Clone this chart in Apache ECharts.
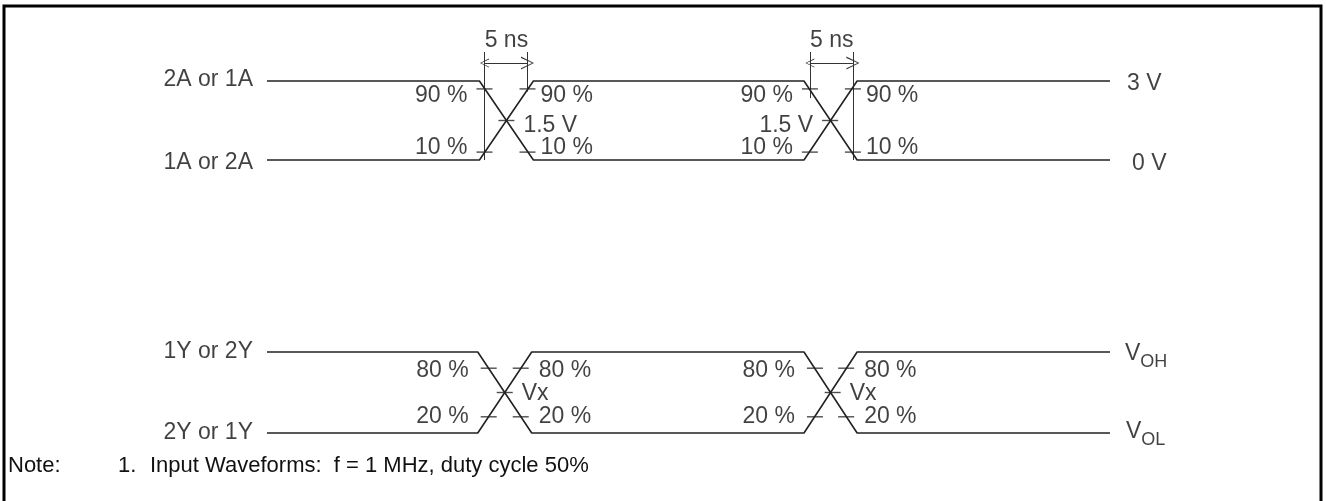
<!DOCTYPE html>
<html>
<head>
<meta charset="utf-8">
<script src="https://cdn.jsdelivr.net/npm/echarts@6/dist/echarts.min.js"></script>
<style>
  html, body { margin: 0; padding: 0; background: #fff; }
  #chart { width: 1326px; height: 501px; }
</style>
</head>
<body>
<div id="chart"></div>
<script>
// time in ns along the trace; input levels in volts, output levels normalised (VOL = 0, VOH = 1)
var inTime = [0, 25.2, 31.6, 63.7, 70.0, 100];
var inA = [3, 3, 0, 0, 3, 3];
var inB = [0, 0, 3, 3, 0, 0];
var outTime = [0, 25.0, 31.4, 63.7, 70.0, 100];
var outA = [1, 1, 0, 0, 1, 1];
var outB = [0, 0, 1, 1, 0, 0];

var inNames = ['2A or 1A', '1A or 2A'];
var outNames = ['1Y or 2Y', '2Y or 1Y'];
var inLevels = ['3 V', '0 V'];
var outLevels = ['{v|V}{s|OH}', '{v|V}{s|OL}'];

// threshold marks on the edges: [t, level, text, side of text]
var inMarks = [
  [25.8, 2.7, '90 %', 'L'], [30.9, 2.7, '90 %', 'R'], [28.4, 1.5, '1.5 V', 'R'],
  [25.8, 0.3, '10 %', 'L'], [30.9, 0.3, '10 %', 'R'],
  [64.4, 2.7, '90 %', 'L'], [69.5, 2.7, '90 %', 'R'], [66.8, 1.5, '1.5 V', 'L'],
  [64.4, 0.3, '10 %', 'L'], [69.5, 0.3, '10 %', 'R']
];
var outMarks = [
  [26.3, 0.8, '80 %', 'L'], [30.1, 0.8, '80 %', 'R'], [28.2, 0.5, 'Vx', 'R'],
  [26.3, 0.2, '20 %', 'L'], [30.1, 0.2, '20 %', 'R'],
  [65.0, 0.8, '80 %', 'L'], [68.7, 0.8, '80 %', 'R'], [67.1, 0.5, 'Vx', 'R'],
  [65.0, 0.2, '20 %', 'L'], [68.7, 0.2, '20 %', 'R']
];

// 5 ns measurement: guide lines [t, top, bottom], arrows [t1, t2, level], labels [t, level, text]
var nsGuides = [[25.8, 4.1, 0], [30.9, 4.1, 2.6], [64.4, 4.1, 2.35], [69.5, 4.1, 0]];
var nsArrows = [[25.8, 30.9, 3.68], [64.4, 69.5, 3.68]];
var nsLabels = [[28.4, 4.6, '5 ns'], [67.0, 4.6, '5 ns']];

var noteParts = ['Note:', '1.', 'Input Waveforms:  f = 1 MHz, duty cycle 50%'];

var FONT = 'Liberation Sans, Arial, sans-serif';
var INK = '#111';
var txt = { fontFamily: FONT, fontSize: 23, color: INK };

function pairs(xs, ys) {
  return xs.map(function (x, i) { return [x, ys[i]]; });
}

function trace(xs, ys, gi) {
  return {
    type: 'line', xAxisIndex: gi, yAxisIndex: gi, data: pairs(xs, ys),
    symbol: 'none', clip: false, silent: true,
    lineStyle: { color: '#222', width: 1.6 }
  };
}

function markSeries(marks, gi, cfg) {
  var ticks = {
    type: 'scatter', xAxisIndex: gi, yAxisIndex: gi, clip: false, silent: true,
    symbol: 'rect', symbolSize: [16, 1.4], itemStyle: { color: '#222' },
    data: marks.map(function (m) { return [m[0], m[1]]; })
  };
  var labels = {
    type: 'scatter', xAxisIndex: gi, yAxisIndex: gi, clip: false, silent: true,
    symbolSize: 0,
    data: marks.map(function (m) {
      var c = cfg(m);
      return {
        value: [m[0], m[1]],
        label: Object.assign({
          show: true, formatter: m[2],
          position: m[3] === 'L' ? 'left' : 'right',
          distance: c.d, offset: [0, c.dy]
        }, txt)
      };
    })
  };
  return [ticks, labels];
}

function endLabels(names, levels, t, side, gaps, dys, gi, rich) {
  return {
    type: 'scatter', xAxisIndex: gi, yAxisIndex: gi, clip: false, silent: true,
    symbolSize: 0,
    data: names.map(function (n, i) {
      var lab = Object.assign({ show: true, formatter: n, position: side, distance: gaps[i], offset: [0, dys[i]] }, txt);
      if (rich) lab.rich = rich;
      return { value: [t, levels[i]], label: lab };
    })
  };
}

var series = [
  trace(inTime, inA, 0), trace(inTime, inB, 0),
  trace(outTime, outA, 1), trace(outTime, outB, 1)
];

series = series.concat(markSeries(inMarks, 0, function (m) {
  if (m[2] === '1.5 V') return { d: 17, dy: 5 };
  if (m[2] === '90 %') return { d: m[3] === 'L' ? 17 : 13, dy: 7 };
  return { d: m[3] === 'L' ? 17 : 13, dy: -4 };
}));
series = series.concat(markSeries(outMarks, 1, function (m) {
  if (m[2] === 'Vx') return { d: 17, dy: 1 };
  if (m[2] === '80 %') return { d: m[3] === 'L' ? 20 : 18, dy: 2 };
  return { d: m[3] === 'L' ? 20 : 18, dy: 0 };
}));

// 5 ns guide lines and arrows
var chevron = 'path://M5,0 L10,10 L9,10 L5,1.4 L1,10 L0,10 Z';
series.push({
  type: 'lines', coordinateSystem: 'cartesian2d', xAxisIndex: 0, yAxisIndex: 0,
  clip: false, silent: true, symbol: 'none',
  lineStyle: { color: '#333', width: 1, opacity: 1 },
  data: nsGuides.map(function (g) { return { coords: [[g[0], g[1]], [g[0], g[2]]] }; })
});
series.push({
  type: 'lines', coordinateSystem: 'cartesian2d', xAxisIndex: 0, yAxisIndex: 0,
  clip: false, silent: true,
  symbol: [chevron, chevron], symbolSize: [9, 13],
  lineStyle: { color: '#333', width: 1, opacity: 1 },
  data: nsArrows.map(function (a) { return { coords: [[a[0], a[2]], [a[1], a[2]]] }; })
});
series.push({
  type: 'scatter', xAxisIndex: 0, yAxisIndex: 0, clip: false, silent: true, symbolSize: 0,
  data: nsLabels.map(function (l) {
    return { value: [l[0], l[1]], label: Object.assign({ show: true, formatter: l[2], position: 'inside', offset: [0, 2] }, txt) };
  })
});

series.push(endLabels(inNames, [3, 0], 0, 'left', [14, 14], [-1, 3], 0));
series.push(endLabels(outNames, [1, 0], 0, 'left', [14, 14], [0, 0], 1));
series.push(endLabels(inLevels, [3, 0], 100, 'right', [17, 22], [3, 4], 0));
series.push(endLabels(outLevels, [1, 0], 100, 'right', [15, 16], [2, -1], 1, {
  v: { fontFamily: FONT, fontSize: 23, color: INK },
  s: { fontFamily: FONT, fontSize: 18, color: INK, padding: [16, 0, 0, 0] }
}));

function xAx(gi) {
  return { type: 'value', gridIndex: gi, min: 0, max: 100, show: false };
}
function yAx(gi, max) {
  return { type: 'value', gridIndex: gi, min: 0, max: max, show: false };
}

function noteText(x, s) {
  return {
    type: 'text', left: x, top: 455, silent: true,
    style: { text: s, fontFamily: FONT, fontSize: 22, fill: INK }
  };
}

var chart = echarts.init(document.getElementById('chart'), null, { renderer: 'canvas' });
chart.setOption({
  animation: false,
  backgroundColor: '#fff',
  grid: [
    { left: 267, right: 216, top: 81, height: 79 },
    { left: 267, right: 216, top: 352, height: 81 }
  ],
  xAxis: [xAx(0), xAx(1)],
  yAxis: [yAx(0, 3), yAx(1, 1)],
  series: series,
  graphic: [
    {
      type: 'rect', silent: true,
      shape: { x: 4, y: 6, width: 1317, height: 520 },
      style: { fill: 'none', stroke: '#000', lineWidth: 3 }
    },
    noteText(8, noteParts[0]),
    noteText(118, noteParts[1]),
    noteText(150, noteParts[2])
  ]
});
</script>
</body>
</html>
